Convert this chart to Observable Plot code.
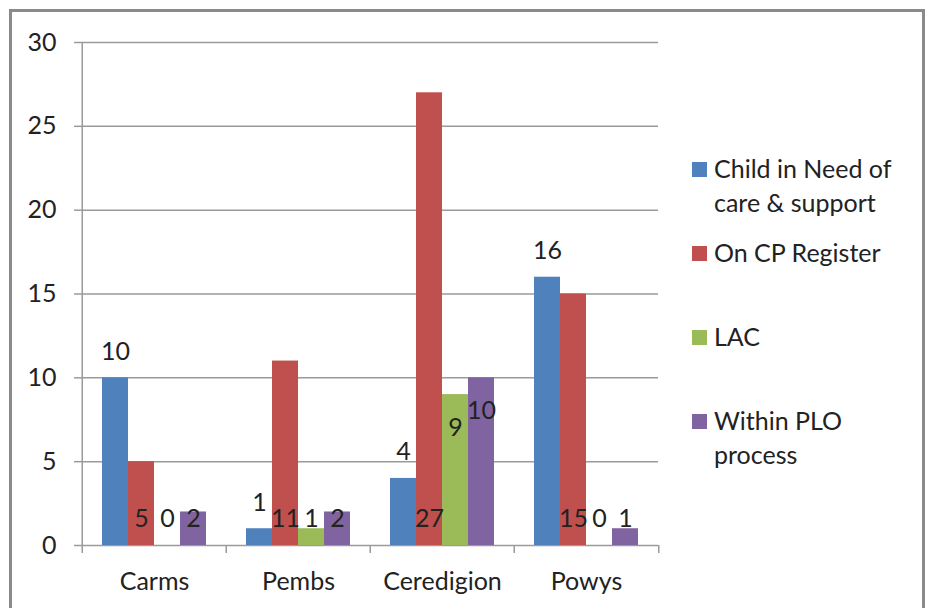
<!DOCTYPE html>
<html><head><meta charset="utf-8">
<script src="https://cdn.jsdelivr.net/npm/d3@7"></script>
<script src="https://cdn.jsdelivr.net/npm/@observablehq/plot@0.6"></script>
<style>
html,body{margin:0;padding:0;background:#fff;overflow:hidden;}
#wrap{position:relative;width:926px;height:608px;overflow:hidden;font-family:Lato,sans-serif;background:#fff;}
#frame{position:absolute;left:9px;top:9px;width:916px;height:700px;border:3px solid #8a8a8a;box-sizing:border-box;pointer-events:none;}
#chart{position:absolute;left:0;top:0;}
#legend{position:absolute;left:0;top:0;}
.item{position:absolute;left:714px;width:200px;font-size:25px;line-height:34px;color:#222;}
.sw{position:absolute;left:692px;width:15px;height:15px;}
</style></head><body>
<div id="wrap"><div id="chart"></div><div id="legend"></div><div id="frame"></div></div>
<script>
const regions = ["Carms", "Pembs", "Ceredigion", "Powys"];
const seriesNames = ["Child in Need of care & support", "On CP Register", "LAC", "Within PLO process"];
const childInNeed = [10, 1, 4, 16];
const onCPRegister = [5, 11, 27, 15];
const lac = [0, 1, 9, 0];
const withinPLO = [2, 2, 10, 1];
const yTicks = [0, 5, 10, 15, 20, 25, 30];

const seriesValues = [childInNeed, onCPRegister, lac, withinPLO];
const data = seriesValues.flatMap((vals, s) =>
  vals.map((v, r) => ({region: regions[r], series: seriesNames[s], si: s, value: v})));

const W = 926, H = 608, ML = 81, MR = 267, MT = 42, MB = 63;
const half = (W - ML - MR) / regions.length / 2;
const GRID = "#9a9a9a";

// Excel-like label placement: first series outside end, second at base, others inside end (min at base)
const baseLabel = 1.6;
function labelY(d) {
  if (d.si === 1) return baseLabel;
  return Math.max(d.value - 2, baseLabel);
}

const plot = Plot.plot({
  width: W, height: H, marginLeft: ML, marginRight: MR, marginTop: MT, marginBottom: MB,
  style: {fontFamily: "Lato, sans-serif", fontSize: "25px", color: "#222", background: "transparent"},
  fx: {domain: regions, padding: 0, label: null},
  x: {domain: seriesNames, paddingInner: 0, paddingOuter: 0.75, axis: null},
  y: {domain: [0, 30], label: null},
  color: {domain: seriesNames, range: ["#4F81BD", "#C0504D", "#9BBB59", "#8064A2"]},
  marks: [
    Plot.gridY({ticks: yTicks, stroke: GRID, strokeOpacity: 1, strokeWidth: 1.5}),
    Plot.gridFx({ticks: [regions[0]], anchor: "bottom", dx: -half, stroke: GRID, strokeOpacity: 1, strokeWidth: 1.5}),
    Plot.axisY({ticks: yTicks, tickSize: 8, tickPadding: 18, stroke: GRID, strokeWidth: 1.5, label: null, fill: "#222"}),
    Plot.axisFx({anchor: "bottom", tickSize: 0, tickPadding: 27, label: null, fill: "#222"}),
    Plot.axisFx({anchor: "bottom", tickSize: 8, dx: -half, tickFormat: () => "", label: null, stroke: GRID, strokeWidth: 1.5}),
    Plot.axisFx({anchor: "bottom", ticks: [regions[regions.length - 1]], tickSize: 8, dx: half, tickFormat: () => "", label: null, stroke: GRID, strokeWidth: 1.5}),
    Plot.barY(data, {fx: "region", x: "series", y: "value", fill: "series"}),
    Plot.text(data.filter(d => d.si === 0), {fx: "region", x: "series", y: "value", text: d => String(d.value), dy: -26, fill: "#222"}),
    Plot.text(data.filter(d => d.si !== 0), {fx: "region", x: "series", y: labelY, text: d => String(d.value), fill: "#222"})
  ]
});
document.getElementById("chart").appendChild(plot);

// legend built from the plot's color scale
const color = plot.scale("color");
const legend = document.getElementById("legend");
seriesNames.forEach((name, i) => {
  const top = 151 + i * 84;
  const sw = document.createElement("div");
  sw.className = "sw";
  sw.style.top = (top + 11) + "px";
  sw.style.background = color.range[i];
  legend.appendChild(sw);
  const it = document.createElement("div");
  it.className = "item";
  it.style.top = top + "px";
  it.textContent = name;
  legend.appendChild(it);
});
</script>
</body></html>
